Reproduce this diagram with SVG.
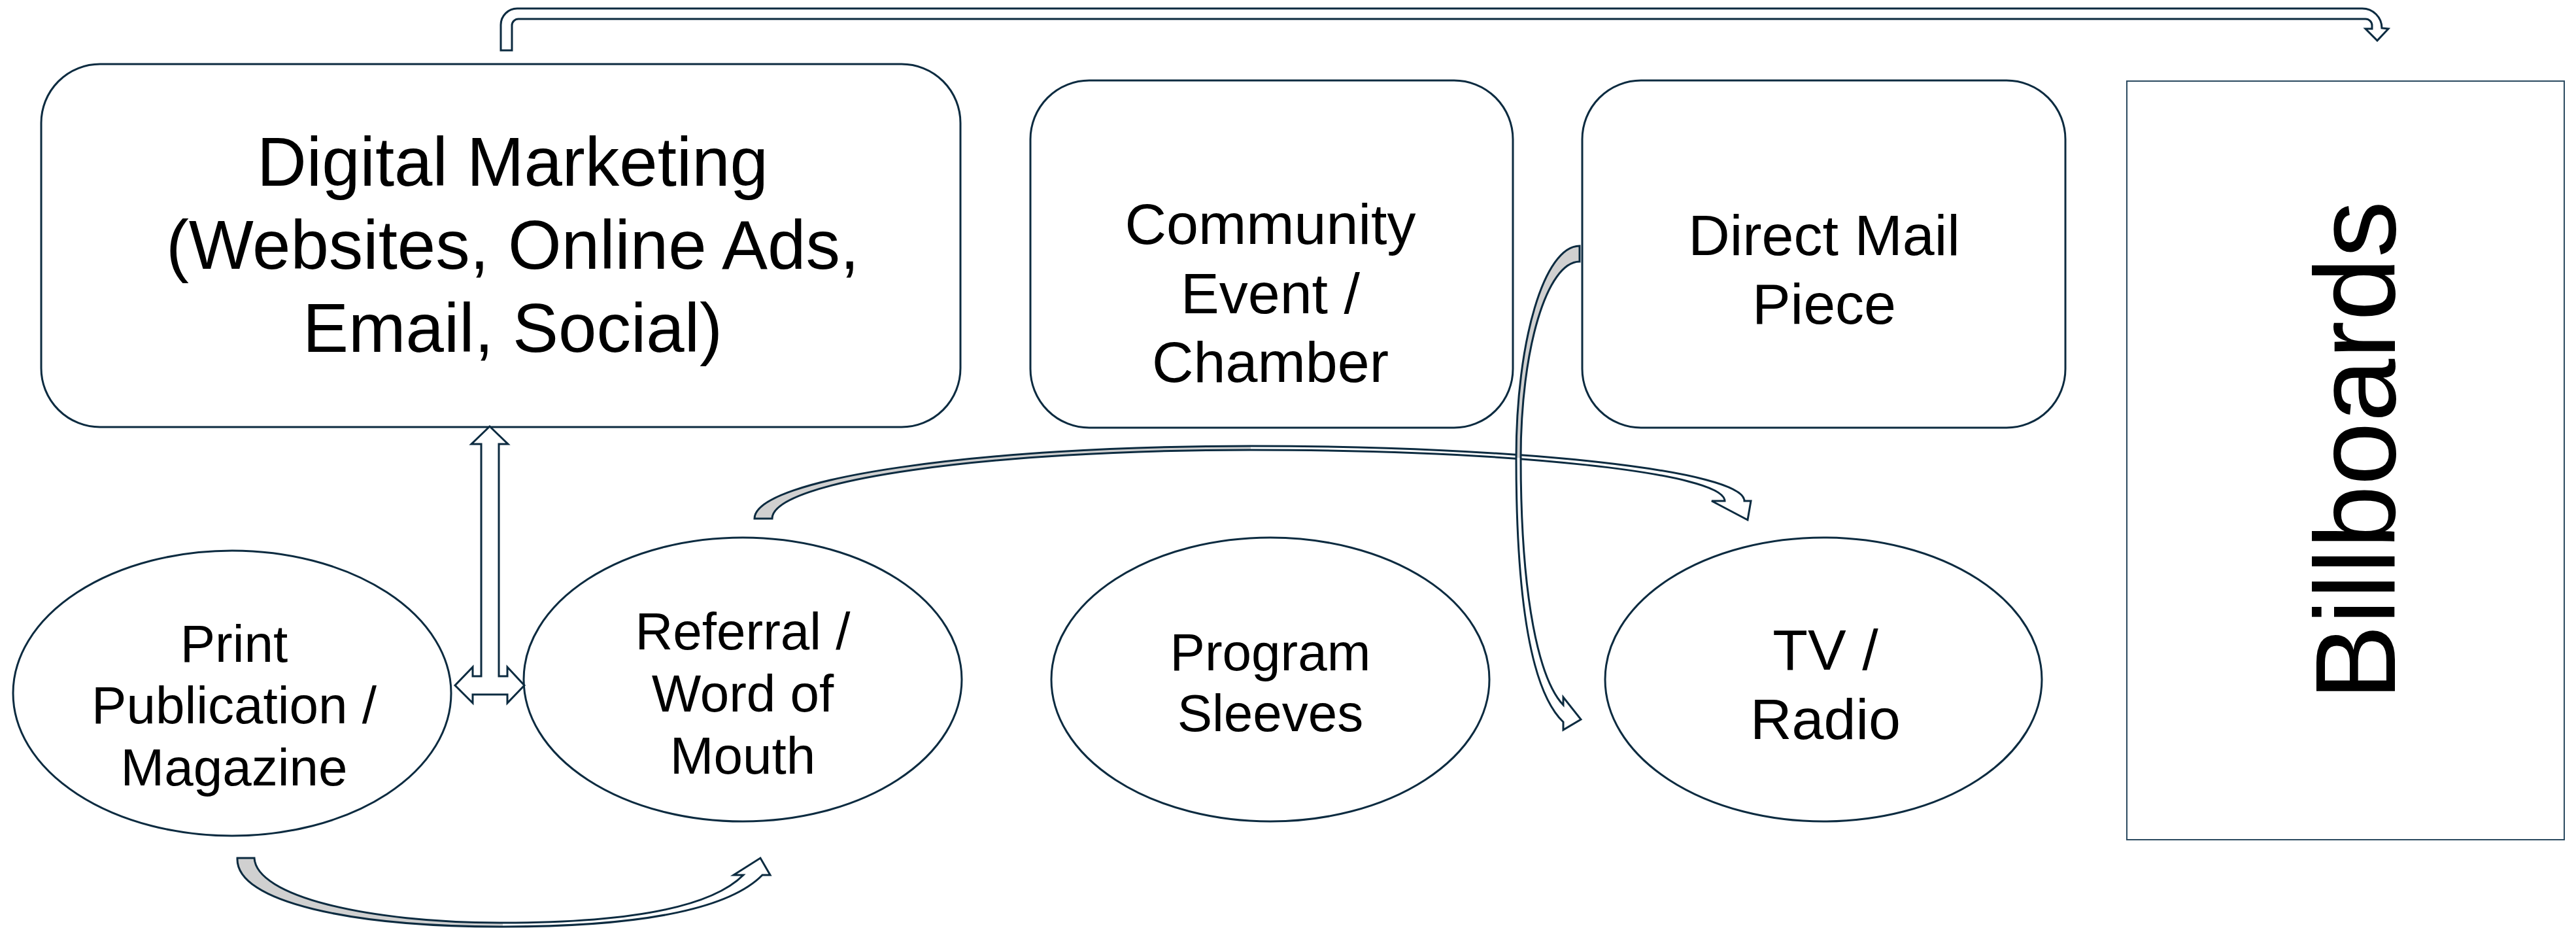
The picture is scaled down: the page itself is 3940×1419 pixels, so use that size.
<svg xmlns="http://www.w3.org/2000/svg" width="3940" height="1419" viewBox="0 0 3940 1419">
<style>
.box{fill:#ffffff;stroke:#0c2b40;stroke-width:3}
.thin{fill:#ffffff;stroke:#2b4a60;stroke-width:2}
.lbl{font-family:"Liberation Sans",Arial,sans-serif;fill:#000000;text-anchor:middle}
.arr{fill:#ffffff;stroke:#0c2b40;stroke-width:3;stroke-linejoin:miter}
.wf{fill:#ffffff;stroke:none}
.gf{fill:#d0d0d0;stroke:none}
.ol{fill:none;stroke:#0c2b40;stroke-width:3}
</style>
<rect width="3940" height="1419" fill="#ffffff"/>
<g id="digital">
<rect class="box" x="63" y="98" width="1406" height="555" rx="90" ry="90"/>
<text class="lbl" font-size="105"><tspan x="784" y="284">Digital Marketing</tspan><tspan x="784" y="411">(Websites, Online Ads,</tspan><tspan x="784" y="538">Email, Social)</tspan></text>
</g>
<g id="community">
<rect class="box" x="1576" y="123" width="738" height="531" rx="90" ry="90"/>
<text class="lbl" font-size="88"><tspan x="1943" y="373">Community</tspan><tspan x="1943" y="479">Event /</tspan><tspan x="1943" y="584">Chamber</tspan></text>
</g>
<g id="directmail">
<rect class="box" x="2420" y="123" width="739" height="531" rx="90" ry="90"/>
<text class="lbl" font-size="88"><tspan x="2790" y="390">Direct Mail</tspan><tspan x="2790" y="495">Piece</tspan></text>
</g>
<g id="billboards">
<rect class="thin" x="3253" y="124" width="669" height="1160"/>
<text class="lbl" font-size="174" transform="translate(3663,689) rotate(-90)" x="0" y="0">Billboards</text>
</g>
<g id="print">
<ellipse class="box" cx="355" cy="1060" rx="335" ry="218"/>
<text class="lbl" font-size="80"><tspan x="358" y="1012">Print</tspan><tspan x="358" y="1106">Publication /</tspan><tspan x="358" y="1201">Magazine</tspan></text>
</g>
<g id="referral">
<ellipse class="box" cx="1136" cy="1039" rx="335" ry="217"/>
<text class="lbl" font-size="80"><tspan x="1136" y="993">Referral /</tspan><tspan x="1136" y="1088">Word of</tspan><tspan x="1136" y="1183">Mouth</tspan></text>
</g>
<g id="program">
<ellipse class="box" cx="1943" cy="1039" rx="335" ry="217"/>
<text class="lbl" font-size="80"><tspan x="1943" y="1025">Program</tspan><tspan x="1943" y="1118">Sleeves</tspan></text>
</g>
<g id="tvradio">
<ellipse class="box" cx="2789" cy="1039" rx="334" ry="217"/>
<text class="lbl" font-size="88"><tspan x="2792" y="1024">TV /</tspan><tspan x="2792" y="1130">Radio</tspan></text>
</g>
<g id="connectors">
<path class="arr" d="M766,77 L766,38 A25,25 0 0 1 791,13 L3613,13 A30,30 0 0 1 3643,43 L3653,44 L3636,62 L3618,44 L3628,44 L3628,39 A10,10 0 0 0 3618,29 L793,29 A10,10 0 0 0 783,39 L783,77 Z"/>
<polygon class="arr" points="749,652 777,679 763,679 763,1034 776,1034 776,1020 802,1048 776,1075 776,1062 723,1062 723,1075 696,1048 723,1020 723,1034 736,1034 736,679 721,679"/>
<g id="print-to-referral">
<path class="gf" d="M363,1312 L389,1312 C392,1370 560,1411 769,1411 L769,1417 C540,1417 360,1380 363,1312 Z"/>
<path class="wf" d="M769,1417 C1000,1417 1120,1385 1166,1338 L1178,1338 L1163,1312 L1122,1338 L1137,1338 C1090,1385 970,1411 769,1411 Z"/>
<path class="ol" d="M363,1312 C360,1380 540,1417 769,1417 C1000,1417 1120,1385 1166,1338 L1178,1338 L1163,1312 L1122,1338 L1137,1338 C1090,1385 970,1411 769,1411 C560,1411 392,1370 389,1312 Z"/>
</g>
<g id="referral-to-tv">
<path class="gf" d="M1154,793 C1154,732 1494,682 1913,682 L1913,688 C1509,688 1181,735 1181,793 Z"/>
<path class="wf" d="M1913,682 C2330,682 2668,720 2668,766 L2678,766 L2673,795 L2618,766 L2638,766 C2638,723 2313,688 1913,688 Z"/>
<path class="ol" d="M1154,793 C1154,732 1494,682 1913,682 C2330,682 2668,720 2668,766 L2678,766 L2673,795 L2618,766 L2638,766 C2638,723 2313,688 1913,688 C1509,688 1181,735 1181,793 Z"/>
</g>
<g id="mail-to-tv">
<path class="gf" d="M2416,376 C2362,376 2319,521 2319,700 L2326,700 C2326,534 2366,400 2416,400 Z"/>
<path class="wf" d="M2319,700 C2319,930 2345,1060 2391,1104 L2391,1116 L2418,1100 L2391,1066 L2391,1078 C2355,1040 2326,920 2326,700 Z"/>
<path class="ol" d="M2416,376 C2362,376 2319,521 2319,700 C2319,930 2345,1060 2391,1104 L2391,1116 L2418,1100 L2391,1066 L2391,1078 C2355,1040 2326,920 2326,700 C2326,534 2366,400 2416,400 Z"/>
</g>
</g>
</svg>
